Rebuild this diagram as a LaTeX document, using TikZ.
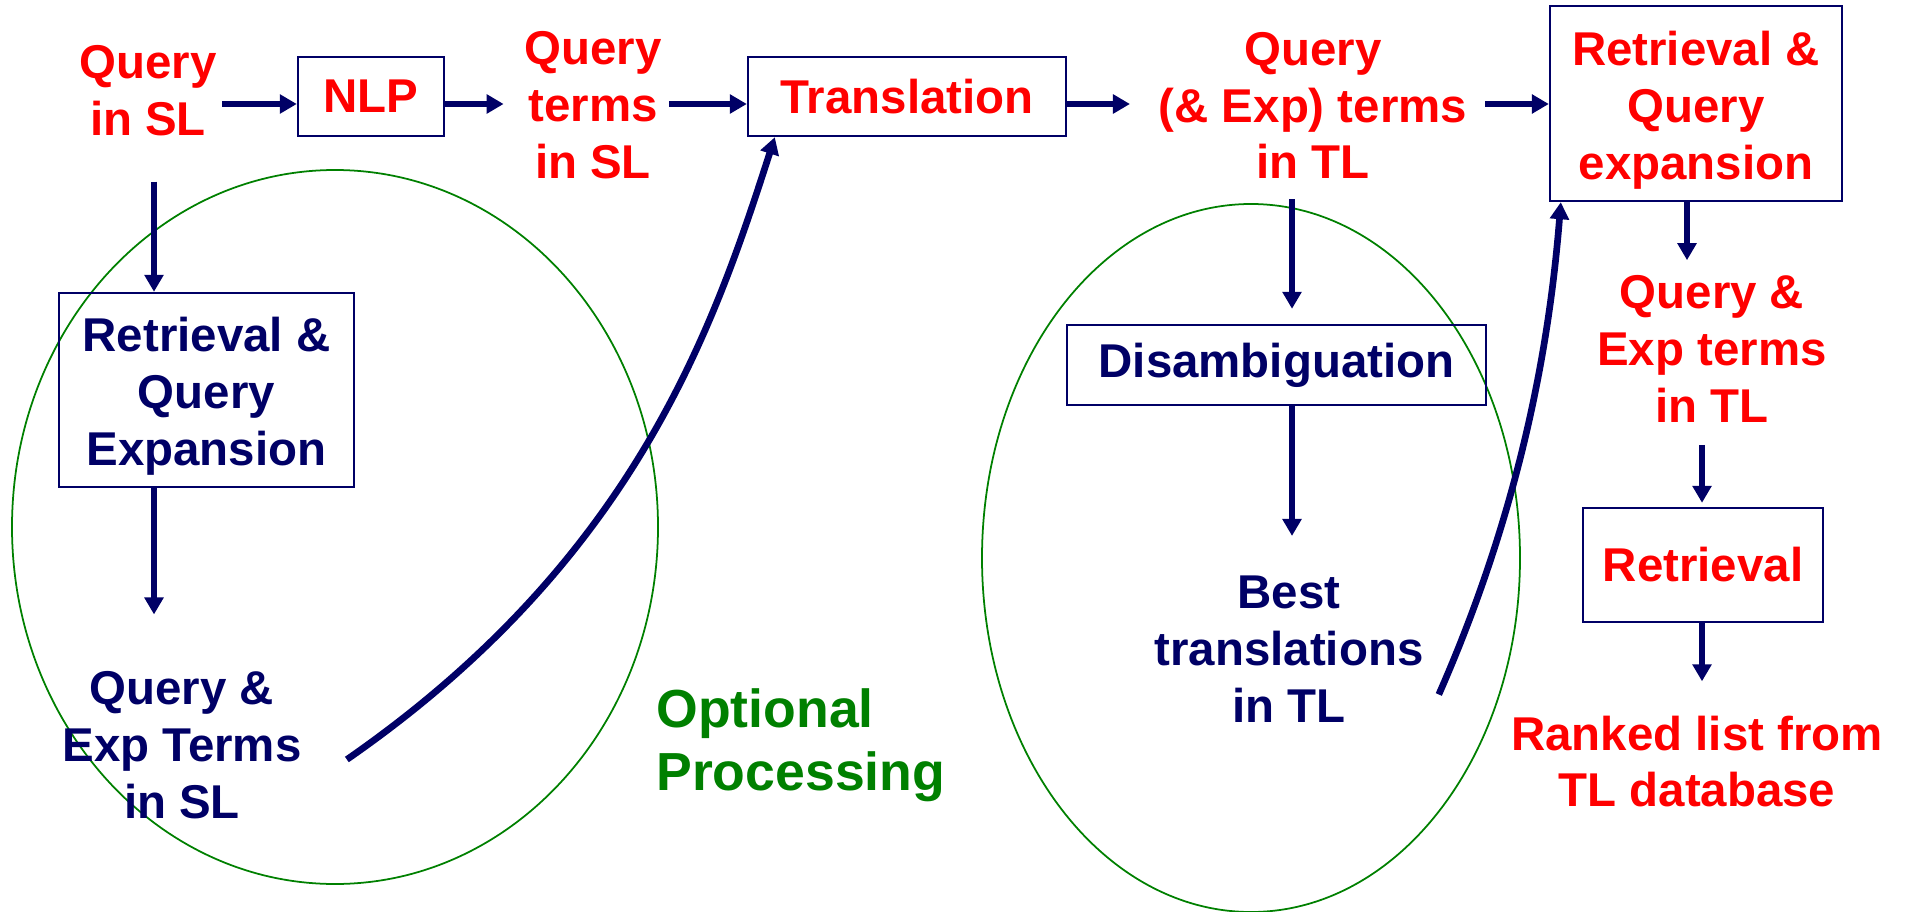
\documentclass[tikz,border=0pt]{standalone}
\usepackage{fontspec}
\setmainfont{Liberation Sans}
\usetikzlibrary{arrows.meta,calc}
\definecolor{navy}{RGB}{0,0,102}
\definecolor{redtxt}{RGB}{255,0,0}
\definecolor{optgreen}{RGB}{0,128,0}
\begin{document}
\begin{tikzpicture}[x=0.02cm,y=-0.02cm,
  lbl/.style={font=\fontsize{27pt}{32.4pt}\selectfont\bfseries, align=center, inner sep=0pt},
  redlbl/.style={lbl, text=redtxt},
  navylbl/.style={lbl, text=navy},
  box/.style={draw=navy, line width=1.4pt, inner sep=0pt},
  arr/.style={draw=navy, line width=3.8pt, -{Triangle[length=0.34cm,width=0.37cm]}},
  oval/.style={draw=optgreen, line width=1pt}]
\path[use as bounding box] (0,0) rectangle (1906,912);

% optional-processing groups
\draw[oval] (335,527) ellipse [x radius=323, y radius=357];
\draw[oval] (1251,558) ellipse [x radius=269, y radius=354];

% main row
\node[redlbl] (qsl) at (148,91) {Query\\in SL};
\node[box, redlbl, draw=navy, minimum width=2.92cm, minimum height=1.58cm] (nlp) at (371,96.5) {NLP};
\node[redlbl] (qtsl) at (593,105.5) {Query\\terms\\in SL};
\node[box, redlbl, draw=navy, minimum width=6.36cm, minimum height=1.58cm] (trans) at (907,96.5) {Translation};
\node[redlbl] (qetl) at (1313,105.5) {Query\\(\& Exp) terms\\in TL};
\node[box, redlbl, draw=navy, minimum width=5.84cm, minimum height=3.9cm] (rbox) at (1696,103.5) {\rule{0pt}{0.97cm}Retrieval \&\\Query\\expansion};

% left branch
\node[box, navylbl, draw=navy, minimum width=5.9cm, minimum height=3.88cm] (lbox) at (206.5,390) {\rule{0pt}{0.92cm}Retrieval \&\\Query\\Expansion};
\node[navylbl] (qesl) at (182,745.5) {Query \&\\Exp Terms\\in SL};

% middle branch
\node[box, navylbl, draw=navy, minimum width=8.38cm, minimum height=1.6cm] (dis) at (1276.5,365) {Disambiguation};
\node[navylbl] (best) at (1289,649.5) {Best\\translations\\in TL};

% right branch
\node[redlbl] (qe2) at (1712,349) {Query \&\\Exp terms\\in TL};
\node[box, redlbl, draw=navy, minimum width=4.8cm, minimum height=2.28cm] (ret) at (1703,565) {Retrieval};
\node[redlbl] (rank) at (1697,761.5) {Ranked list from\\TL database};

\node[font=\fontsize{30.5pt}{36pt}\selectfont\bfseries, text=optgreen, align=left, anchor=west, inner sep=0pt] (opt) at (656,745.5) {Optional\\Processing};

% guide coordinates for connectors
\coordinate (row) at (0,104);
\coordinate (colA) at (154,0);
\coordinate (colB) at (1292,0);
\coordinate (colC) at (1687,0);
\coordinate (colD) at (1702,0);

% horizontal flow
\draw[arr, shorten <=0.11cm] (qsl.east |- row) -- (nlp.west |- row);
\draw[arr, shorten >=0.41cm] (nlp.east |- row) -- (qtsl.west |- row);
\draw[arr, shorten <=0.15cm] (qtsl.east |- row) -- (trans.west |- row);
\draw[arr, shorten >=0.57cm] (trans.east |- row) -- (qetl.west |- row);
\draw[arr, shorten <=0.35cm] (qetl.east |- row) -- (rbox.west |- row);

% vertical flow
\draw[arr, shorten <=0.9cm] (qsl.south -| colA) -- (lbox.north -| colA);
\draw[arr, shorten >=1.14cm] (lbox.south -| colA) -- (qesl.north -| colA);
\draw[arr, shorten <=0.4cm, shorten >=0.3cm] (qetl.south -| colB) -- (dis.north -| colB);
\draw[arr, shorten >=0.8cm] (dis.south -| colB) -- (best.north -| colB);
\draw[arr, shorten >=0.3cm] (rbox.south -| colC) -- (qe2.north -| colC);
\draw[arr, shorten <=0.44cm, shorten >=0.08cm] (qe2.south -| colD) -- (ret.north -| colD);
\draw[arr, shorten >=0.68cm] (ret.south -| colD) -- (rank.north -| colD);

% bypass curves
\draw[arr] ($(qesl.east)+(45,14)$) .. controls (636,559) and (714,326) .. ($(trans.south west)+(28,0)$);
\draw[arr] ($(best.east)+(15,45)$) .. controls (1519,512) and (1549,350) .. ($(rbox.south west)+(12,0)$);
\end{tikzpicture}
\end{document}
